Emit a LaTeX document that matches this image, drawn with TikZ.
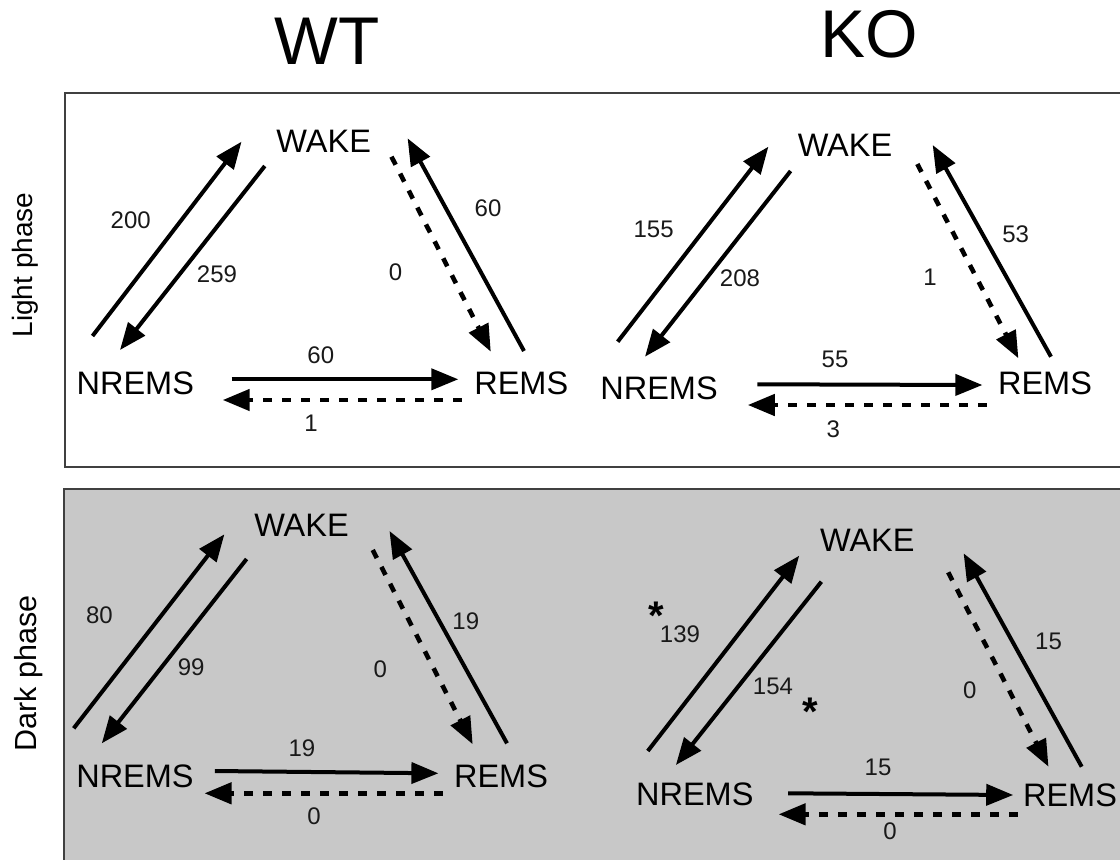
\documentclass[tikz,border=0pt]{standalone}
\usepackage{fontspec}
\setmainfont{Liberation Sans}
\usetikzlibrary{arrows.meta,calc}

\definecolor{panelgray}{HTML}{C8C8C8}
\definecolor{frame}{HTML}{404040}

% an asterisk whose box hugs the glyph, so that it centres on its ink
\newcommand{\sigmark}{\raisebox{-0.46em}{*}}

\tikzset{
  title/.style={font=\fontsize{67.5}{67.5}\selectfont, inner sep=0pt},
  phase/.style={inner sep=0pt, rotate=90},
  statelbl/.style={font=\fontsize{32.5}{32.5}\selectfont, inner sep=0pt},
  num/.style={font=\fontsize{24}{24}\selectfont, inner sep=0pt, text=black!90},
  star/.style={font=\bfseries\fontsize{40}{40}\selectfont, inner sep=0pt},
  flow/.style={line width=4pt, -{Triangle[length=27pt,width=21pt]}},
  rare/.style={flow, line width=4.6pt, dash pattern=on 9pt off 10pt},
  panel/.style={draw=frame, line width=1.5pt}
}

\begin{document}
\begin{tikzpicture}[x=1pt,y=-1pt]
\useasboundingbox (0,0) rectangle (1120,860);

% panels
\draw[panel, fill=white] (65,93) rectangle (1130,467);
\draw[panel, fill=panelgray] (64,489) rectangle (1130,870);

% column and row headings
\node[title] (wt) at (327,41.5) {WT};
\node[title] (ko) at (869.5,34) {KO};
\node[phase, font=\fontsize{28}{28}\selectfont] (light) at (25.5,265) {Light phase};
\node[phase, font=\fontsize{30.5}{30.5}\selectfont] (dark) at (28.3,673.3) {Dark phase};

% ---------- WT, light phase ----------
\node[statelbl] (tlW) at (323.7,141) {WAKE};
\node[statelbl] (tlN) at (135.3,383) {NREMS};
\node[statelbl] (tlR) at (521.3,383) {REMS};
\draw[flow] ($(tlN)+(-42.8,-47)$) -- ($(tlW)+(-82.2,0.7)$);
\draw[flow] ($(tlW)+(-58.9,25)$) -- ($(tlN)+(-15.3,-33)$);
\draw[rare] ($(tlW)+(67.8,15.7)$) -- ($(tlR)+(-30.5,-31.3)$);
\draw[flow] ($(tlR)+(2.7,-32)$) -- ($(tlW)+(83.9,-2.7)$);
\draw[flow] ($(tlN)+(96.4,-3.7)$) -- ($(tlR)+(-63,-3.7)$);
\draw[rare] ($(tlR)+(-59.6,17)$) -- ($(tlN)+(87.4,17)$);
\node[num] (tlNW) at (130.7,220) {200};
\node[num] (tlWN) at (217,274) {259};
\node[num] (tlWR) at (395.6,272.7) {0};
\node[num] (tlRW) at (488,208.3) {60};
\node[num] (tlNR) at (320.8,355) {60};
\node[num] (tlRN) at (311,423) {1};

% ---------- KO, light phase ----------
\node[statelbl] (trW) at (845,145.8) {WAKE};
\node[statelbl] (trN) at (659,388.3) {NREMS};
\node[statelbl] (trR) at (1045,383.3) {REMS};
\draw[flow] ($(trN)+(-41.3,-46.6)$) -- ($(trW)+(-76.6,0.9)$);
\draw[flow] ($(trW)+(-54.4,25.2)$) -- ($(trN)+(-14,-31.6)$);
\draw[rare] ($(trW)+(72.3,18.2)$) -- ($(trR)+(-26.6,-25)$);
\draw[flow] ($(trR)+(6,-26.6)$) -- ($(trW)+(87.7,-0.8)$);
\draw[flow] ($(trN)+(98.4,-4)$) -- ($(trR)+(-62.6,1.7)$);
\draw[rare] ($(trR)+(-58.2,21.7)$) -- ($(trN)+(88.8,16.7)$);
\node[num] (trNW) at (653.6,229.3) {155};
\node[num] (trWN) at (740,278.3) {208};
\node[num] (trWR) at (930,277.3) {1};
\node[num] (trRW) at (1015.6,234) {53};
\node[num] (trNR) at (835,359.3) {55};
\node[num] (trRN) at (833.4,429.3) {3};

% ---------- WT, dark phase ----------
\node[statelbl] (blW) at (301.5,525) {WAKE};
\node[statelbl] (blN) at (135,776.7) {NREMS};
\node[statelbl] (blR) at (501,776.7) {REMS};
\draw[flow] ($(blN)+(-61.3,-48.4)$) -- ($(blW)+(-77.1,9.3)$);
\draw[flow] ($(blW)+(-54.9,34)$) -- ($(blN)+(-33.2,-33.4)$);
\draw[rare] ($(blW)+(71.2,25)$) -- ($(blR)+(-28.3,-32.4)$);
\draw[flow] ($(blR)+(6,-33.4)$) -- ($(blW)+(88,6)$);
\draw[flow] ($(blN)+(79.8,-5.7)$) -- ($(blR)+(-62.6,-3.4)$);
\draw[rare] ($(blR)+(-58.1,16.6)$) -- ($(blN)+(69.5,16.6)$);
\node[num] (blNW) at (99.4,615) {80};
\node[num] (blWN) at (191.2,667.7) {99};
\node[num] (blWR) at (380.2,669) {0};
\node[num] (blRW) at (465.8,621) {19};
\node[num] (blNR) at (302,748.3) {19};
\node[num] (blRN) at (314,816.7) {0};

% ---------- KO, dark phase ----------
\node[statelbl] (brW) at (867.3,540) {WAKE};
\node[statelbl] (brN) at (694.8,794) {NREMS};
\node[statelbl] (brR) at (1070,795.5) {REMS};
\draw[flow] ($(brN)+(-47,-43)$) -- ($(brW)+(-68.1,15.7)$);
\draw[flow] ($(brW)+(-45.9,41.7)$) -- ($(brN)+(-18.9,-29)$);
\draw[rare] ($(brW)+(80.9,32.3)$) -- ($(brR)+(-21.5,-28.8)$);
\draw[flow] ($(brR)+(11.7,-28.8)$) -- ($(brW)+(96.3,13.3)$);
\draw[flow] ($(brN)+(93.4,-0.7)$) -- ($(brR)+(-56.8,-0.5)$);
\draw[rare] ($(brR)+(-52.3,18.8)$) -- ($(brN)+(83.8,20.3)$);
\node[num] (brNW) at (680,634.5) {139};
\node[num] (brWN) at (773,686.5) {154};
\node[num] (brWR) at (969.7,690) {0};
\node[num] (brRW) at (1048.5,641.7) {15};
\node[num] (brNR) at (878,767.7) {15};
\node[num] (brRN) at (890,831.7) {0};
\node[star] (brNWsig) at (656.5,615.5) {\sigmark};
\node[star] (brWNsig) at (810.5,711.5) {\sigmark};
\end{tikzpicture}
\end{document}
